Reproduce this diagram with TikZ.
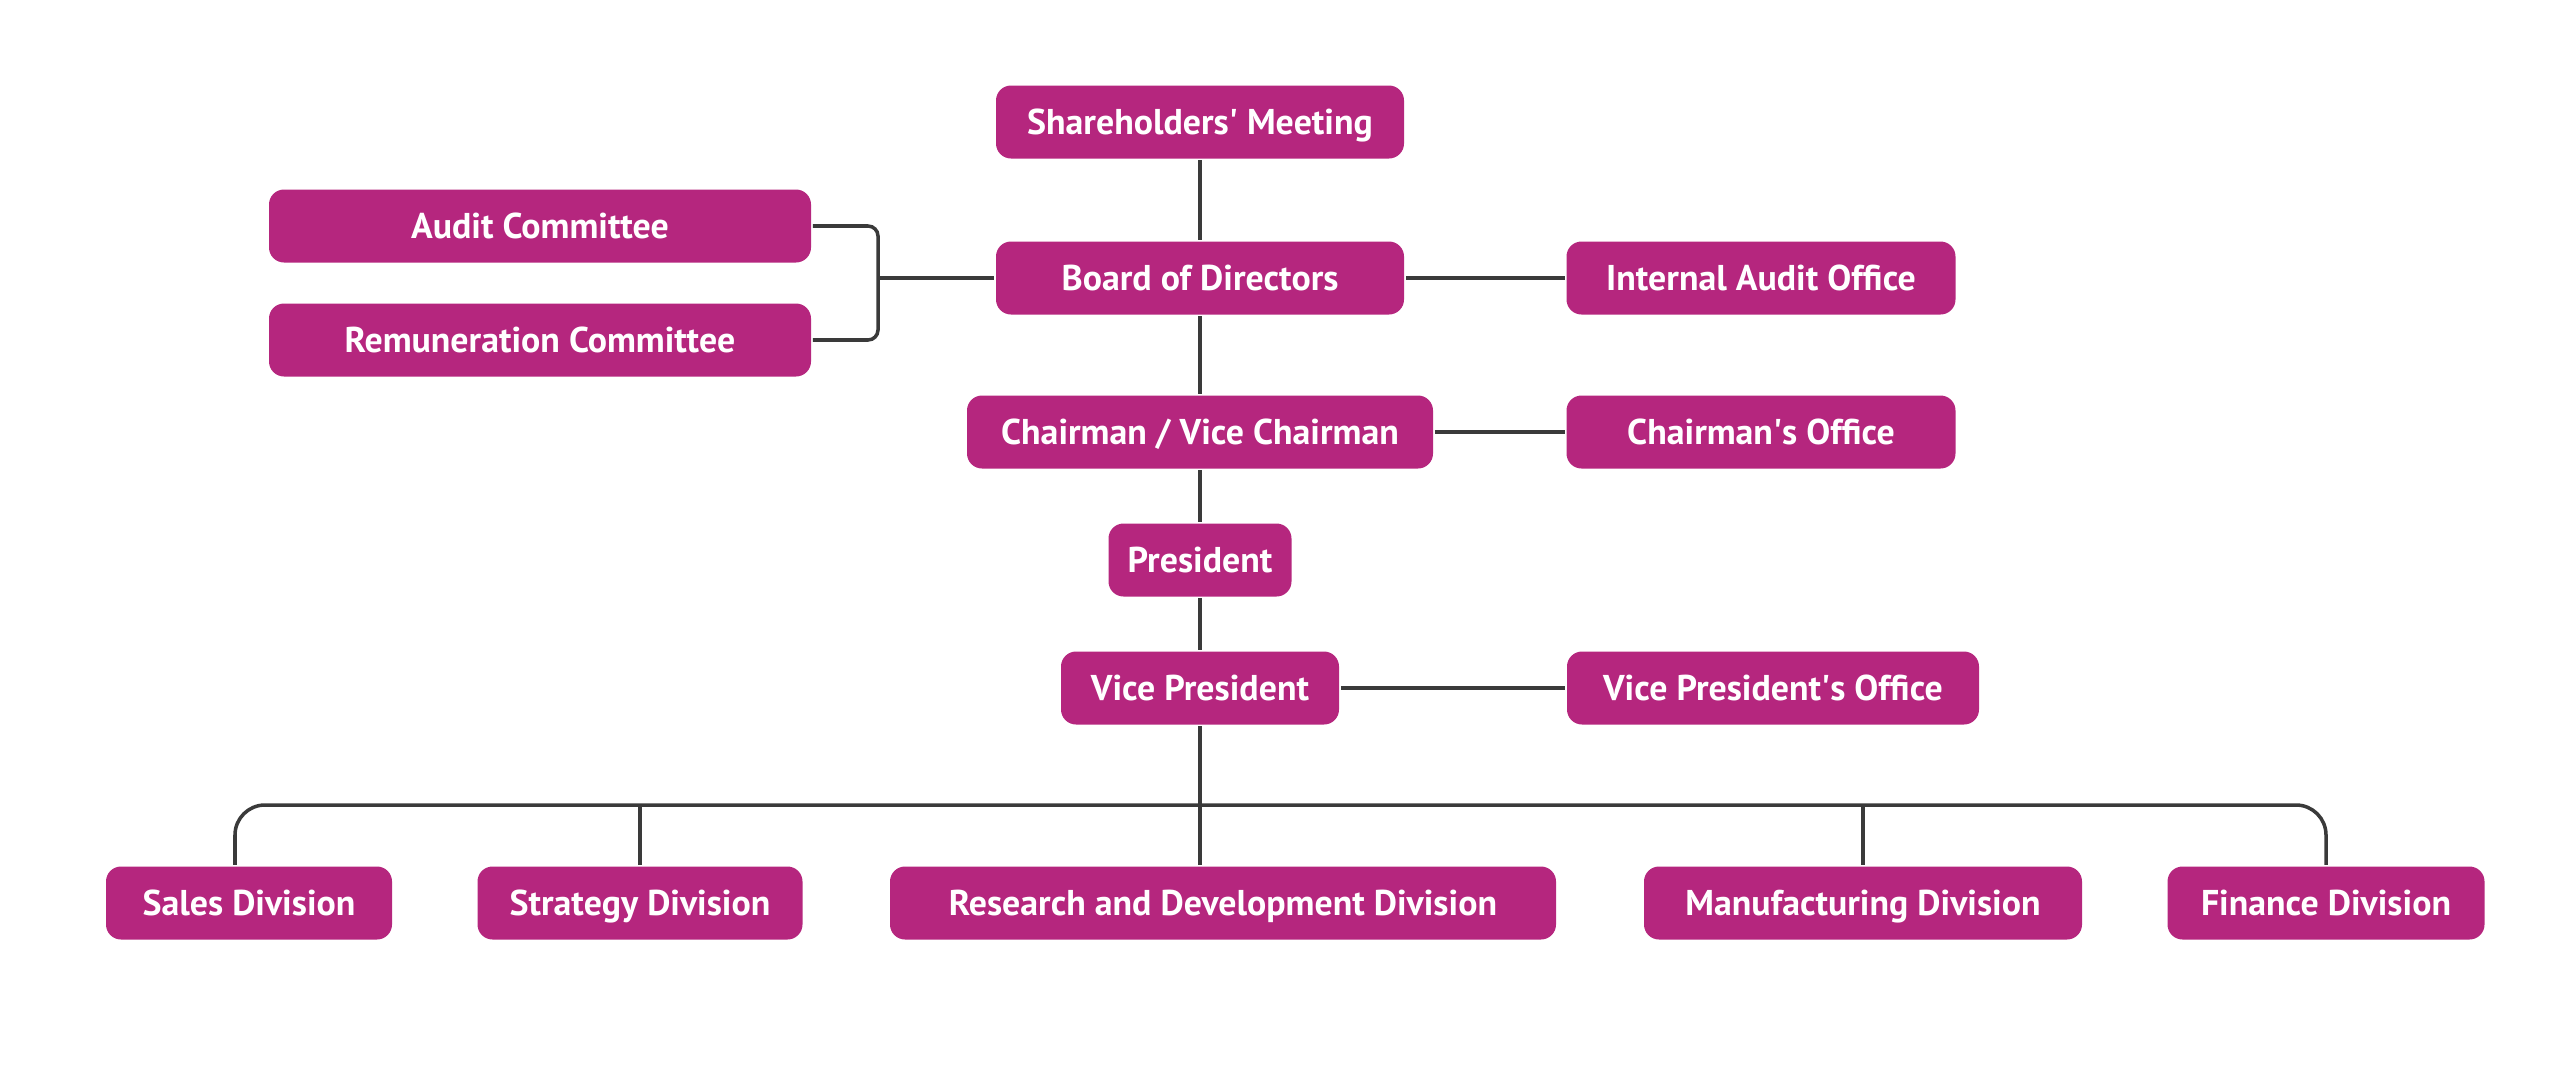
\documentclass[tikz,border=0pt]{standalone}
\usepackage{fontspec}
\setmainfont{PT Sans}
\usetikzlibrary{positioning}
\definecolor{orgpink}{RGB}{181,38,126}
\definecolor{orgline}{RGB}{58,58,58}

\begin{document}
\begin{tikzpicture}[line width=1pt,
    unit/.style={rectangle,rounded corners=0.15cm,fill=orgpink,text=white,
      font=\fontsize{10.2}{12}\selectfont\bfseries,minimum height=0.73cm,inner sep=0pt,
      text height=0.25cm,text depth=0cm},
    link/.style={draw=orgline}]
      \useasboundingbox (0,0) rectangle (25.6,-10.88);

      % top of the chart
      \node[unit,minimum width=4.08cm] (share) at (12.00,-1.22) {Shareholders\textquotesingle\ Meeting};
      \node[unit,minimum width=4.08cm] (board) at (12.00,-2.78) {Board of Directors};
      \node[unit,minimum width=5.42cm] (audit) at (5.40,-2.26) {Audit Committee};
      \node[unit,minimum width=5.42cm] (remun) at (5.40,-3.40) {Remuneration Committee};
      \node[unit,minimum width=3.89cm] (iaudit) at (17.61,-2.78) {Internal Audit Office};
      \node[unit,minimum width=4.66cm] (chair) at (12.00,-4.32) {Chairman / Vice Chairman};
      \node[unit,minimum width=3.89cm] (choff) at (17.61,-4.32) {Chairman\textquotesingle s Office};
      \node[unit,minimum width=1.83cm] (pres) at (12.00,-5.60) {President};
      \node[unit,minimum width=2.78cm] (vp) at (12.00,-6.88) {Vice President};
      \node[unit,minimum width=4.12cm] (vpoff) at (17.73,-6.88) {Vice President\textquotesingle s Office};

      % divisions
      \node[unit,minimum width=2.86cm] (sales) at (2.49,-9.03) {Sales Division};
      \node[unit,minimum width=3.25cm] (strat) at (6.40,-9.03) {Strategy Division};
      \node[unit,minimum width=6.66cm] (rd) at (12.23,-9.03) {Research and Development Division};
      \node[unit,minimum width=4.38cm] (manu) at (18.63,-9.03) {Manufacturing Division};
      \node[unit,minimum width=3.17cm] (fin) at (23.26,-9.03) {Finance Division};

      \coordinate (comm) at (8.78,-2.78);
      \coordinate (bus) at (12.00,-8.05);

      \path[link]
      (share) edge (board)
      (board) edge (chair)
      (board) edge (iaudit)
      (chair) edge (pres)
      (chair) edge (choff)
      (pres) edge (vp)
      (vp) edge (vpoff)
      (comm) edge (board)
      ;
      \draw[link] (vp.south) -- (vp.south |- rd.north);
      \draw[link] (bus -| strat.north) -- (strat.north);
      \draw[link] (bus -| manu.north) -- (manu.north);
      \draw[link,rounded corners=0.1cm] (audit.east) -| (comm) |- (remun.east);
      \draw[link,rounded corners=0.3cm] ([xshift=-0.14cm]sales.north)
        -- ([xshift=-0.14cm]sales.north |- bus) -- (fin.north |- bus) -- (fin.north);
    \end{tikzpicture}
\end{document}
